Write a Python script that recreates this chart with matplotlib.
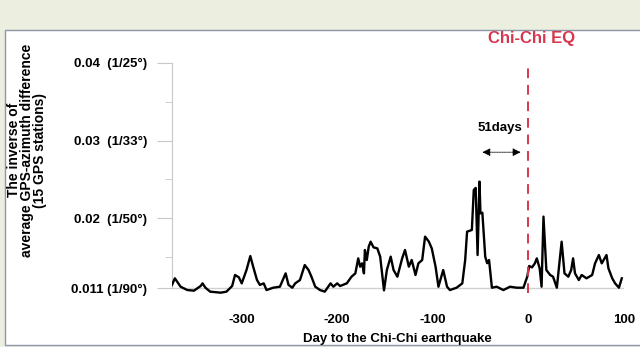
import matplotlib
matplotlib.use("Agg")
import matplotlib.pyplot as plt
from matplotlib.patches import Rectangle

plt.rcParams['font.family'] = ['Liberation Sans', 'DejaVu Sans']
plt.rcParams['font.weight'] = 'bold'

days = [-373, -370, -364, -357, -350, -343, -341, -338, -333, -322, -316, -310,
        -307, -303, -300, -295, -291, -288, -284, -281, -277, -274, -267, -260,
        -254, -251, -247, -244, -239, -234, -230, -227, -223, -218, -213, -207,
        -204, -200, -197, -190, -185, -181, -178, -176, -174, -172, -171, -169,
        -167, -165, -162, -158, -155, -151, -148, -144, -141, -137, -132, -129,
        -125, -122, -118, -115, -111, -108, -104, -101, -97, -94, -89, -85,
        -82, -75, -69, -66, -64, -59, -57, -55, -53, -51, -50, -48,
        -45, -43, -41, -38, -33, -26, -19, -12, -5, -1, 1, 4,
        7, 9, 12, 14, 16, 19, 23, 26, 30, 33, 35, 38,
        42, 45, 47, 49, 53, 56, 61, 67, 70, 74, 77, 82,
        84, 88, 91, 95, 98]
values = [0.0114, 0.01225, 0.01117, 0.01074, 0.01066, 0.01126, 0.0116, 0.01104, 0.01053, 0.0104, 0.01053, 0.01126,
          0.01268, 0.01238, 0.0116, 0.01332, 0.01512, 0.01375, 0.01203, 0.0114, 0.0116, 0.01074, 0.01104, 0.01117,
          0.01289, 0.0114, 0.01104, 0.0116, 0.01203, 0.01396, 0.01332, 0.01246, 0.01117, 0.01074, 0.01053, 0.0116,
          0.01117, 0.0116, 0.01126, 0.0116, 0.01246, 0.01289, 0.01482, 0.01375, 0.01418, 0.01289, 0.0159, 0.01461,
          0.01633, 0.01697, 0.01624, 0.01611, 0.01504, 0.0107, 0.01332, 0.01504, 0.01332, 0.01246, 0.01482, 0.0159,
          0.01375, 0.01461, 0.01268, 0.01418, 0.01461, 0.01762, 0.01697, 0.01611, 0.01375, 0.01117, 0.01332, 0.01117,
          0.01074, 0.01104, 0.0116, 0.01461, 0.01826, 0.01848, 0.02363, 0.0239, 0.01525, 0.02471, 0.02062, 0.0207,
          0.01504, 0.0142, 0.01461, 0.01104, 0.01117, 0.01074, 0.01117, 0.01104, 0.01104, 0.01246, 0.01384, 0.01366,
          0.01418, 0.01482, 0.01354, 0.01117, 0.0202, 0.01332, 0.01268, 0.01246, 0.01104, 0.01461, 0.01697, 0.01289,
          0.01246, 0.01332, 0.01482, 0.01289, 0.01203, 0.01268, 0.01225, 0.01268, 0.01418, 0.01525, 0.01418, 0.01525,
          0.01354, 0.01225, 0.0116, 0.01104, 0.01225]

ytick_vals = [0.011, 0.02, 0.03, 0.04]
ytick_labels = ['0.011 (1/90°)', '0.02  (1/50°)', '0.03  (1/33°)', '0.04  (1/25°)']
yminor_vals = [0.015, 0.025, 0.035]
xtick_vals = [-300, -200, -100, 0, 100]
xtick_labels = ['-300', '-200', '-100', '0', '100']
eq_day = 0
lead_days = 51

W, H = 640, 347
fig = plt.figure(figsize=(6.4, 3.47), dpi=100, facecolor='#ECEFE0')
panel = Rectangle((5 / W, 2 / H), 1.0, (345 - 30) / H, transform=fig.transFigure,
                  facecolor='white', edgecolor='#8d97a8', lw=1.0, zorder=-1)
fig.add_artist(panel)

ax = fig.add_axes([172 / W, 0.1476, 451.7 / W, 0.6934])
ax.set_facecolor('none')
ax.set_xlim(-373, 100)
ax.set_ylim(0.0100, 0.0410)

ax.axhline(0.011, color='#d0d0d0', lw=1.0, zorder=1)
ax.plot(days, values, color='black', lw=1.7, zorder=3)
ax.plot([eq_day, eq_day], [0.0103, 0.0400], color='#d8364f', lw=1.4,
        dashes=(5, 3.5), zorder=4)

ax.annotate('', xy=(-lead_days, 0.0285), xytext=(-5, 0.0285),
            arrowprops=dict(arrowstyle='<|-|>', color='black', lw=0.6,
                            mutation_scale=12, linestyle=(0, (1, 1))))
ax.text(-30, 0.0316, f'{lead_days}days', ha='center', va='center', fontsize=9.5,
        fontweight='bold')
ax.text(eq_day + 3, 0.0432, 'Chi-Chi EQ', ha='center', va='center', fontsize=12,
        fontweight='bold', color='#d8364f', clip_on=False)

for s in ['top', 'right', 'bottom']:
    ax.spines[s].set_visible(False)
ax.spines['left'].set_color('#c8c8c8')
ax.spines['left'].set_bounds(0.011, 0.04)

ax.set_yticks(ytick_vals)
ax.set_yticklabels(ytick_labels)
ax.set_yticks(yminor_vals, minor=True)
ax.tick_params(axis='y', which='major', length=11, color='#c8c8c8', pad=7,
               labelsize=9.5)
ax.tick_params(axis='y', which='minor', length=5, color='#c8c8c8')
ax.set_xticks(xtick_vals)
ax.set_xticklabels(xtick_labels)
ax.tick_params(axis='x', length=0, pad=13, labelsize=9.5)
for lab in ax.get_xticklabels() + ax.get_yticklabels():
    lab.set_fontweight('bold')

ax.set_xlabel('Day to the Chi-Chi earthquake', fontsize=9.5, fontweight='bold',
              labelpad=5)

fig.text(27 / W, 1 - 150 / H,
         'The inverse of\naverage GPS-azimuth difference\n(15 GPS stations)',
         rotation=90, ha='center', va='center', multialignment='center',
         fontsize=10, fontweight='bold', linespacing=0.95)

fig.savefig('out.png', dpi=100, facecolor=fig.get_facecolor())
